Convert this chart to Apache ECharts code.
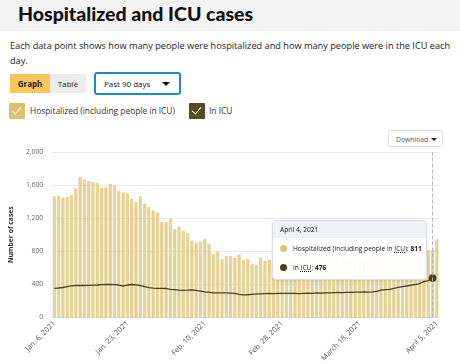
<!DOCTYPE html>
<html><head><meta charset="utf-8">
<script src="https://cdn.jsdelivr.net/npm/echarts@6/dist/echarts.min.js"></script>
<style>
body{margin:0;width:460px;height:364px;overflow:hidden;background:#fff;font-family:"Open Sans",sans-serif;position:relative;color:#222}
#hdr{position:absolute;left:0;top:0;width:460px;height:31px;background:#f3f3f3}
#title{position:absolute;left:18px;top:2px;font-family:Lato,sans-serif;font-weight:900;font-size:19.5px;color:#111;white-space:nowrap}
#desc{position:absolute;left:10px;top:39px;width:450px;font-size:9.2px;line-height:14.5px;color:#222}
.btn{position:absolute;top:74px;height:19px;line-height:19px;font-size:8px;text-align:center;color:#222}
#graph{left:10px;width:40px;background:#f8c75b;font-weight:700}
#table{left:50px;width:36px;background:#ececec}
#range{position:absolute;left:94px;top:72px;width:75px;height:19px;border:2px solid #1b8cc9;border-radius:3px;font-size:8px;line-height:19px;padding-left:8px;box-sizing:content-box;color:#222}
#range .arr{position:absolute;right:9px;top:8px;width:0;height:0;border-left:4px solid transparent;border-right:4px solid transparent;border-top:4px solid #111}
.cb{position:absolute;top:103px;width:16px;height:16px;border-radius:1px}
.cb::after{content:"";position:absolute;left:5px;top:1.5px;width:4px;height:8px;border-right:1.6px solid #fff;border-bottom:1.6px solid #fff;transform:rotate(40deg)}
#cb1{left:9px;background:#dcc06c}
#cb2{left:189px;background:#5a4a22}
.lg{position:absolute;top:105px;font-size:8.4px;color:#333;white-space:nowrap}
#dl{position:absolute;left:388px;top:130px;width:55px;height:17px;border:1px solid #e2e2e2;border-radius:2px;font-size:6.8px;line-height:17px;color:#555;padding-left:7px;box-sizing:border-box;z-index:10;background:#fff}
#dl .arr{position:absolute;right:5px;top:7px;width:0;height:0;border-left:3px solid transparent;border-right:3px solid transparent;border-top:3.5px solid #222}
#chart{position:absolute;left:0;top:125px;width:460px;height:239px}
abbr{text-decoration:underline dotted;text-underline-offset:1px}
</style></head>
<body>
<div id="hdr"><div id="title">Hospitalized and ICU cases</div></div>
<div id="desc">Each data point shows how many people were hospitalized and how many people were in the ICU each day.</div>
<div class="btn" id="graph">Graph</div><div class="btn" id="table">Table</div>
<div id="range">Past 90 days<span class="arr"></span></div>
<div class="cb" id="cb1"></div><div class="lg" style="left:30px">Hospitalized (including people in ICU)</div>
<div class="cb" id="cb2"></div><div class="lg" style="left:209px">In ICU</div>
<div id="chart"></div>
<div id="dl">Download<span class="arr"></span></div>
<script>
const dates = [
"Jan. 6, 2021","Jan. 7, 2021","Jan. 8, 2021","Jan. 9, 2021","Jan. 10, 2021","Jan. 11, 2021","Jan. 12, 2021","Jan. 13, 2021","Jan. 14, 2021","Jan. 15, 2021",
"Jan. 16, 2021","Jan. 17, 2021","Jan. 18, 2021","Jan. 19, 2021","Jan. 20, 2021","Jan. 21, 2021","Jan. 22, 2021","Jan. 23, 2021","Jan. 24, 2021","Jan. 25, 2021",
"Jan. 26, 2021","Jan. 27, 2021","Jan. 28, 2021","Jan. 29, 2021","Jan. 30, 2021","Jan. 31, 2021",
"Feb. 1, 2021","Feb. 2, 2021","Feb. 3, 2021","Feb. 4, 2021","Feb. 5, 2021","Feb. 6, 2021","Feb. 7, 2021","Feb. 8, 2021","Feb. 9, 2021","Feb. 10, 2021",
"Feb. 11, 2021","Feb. 12, 2021","Feb. 13, 2021","Feb. 14, 2021","Feb. 15, 2021","Feb. 16, 2021","Feb. 17, 2021","Feb. 18, 2021","Feb. 19, 2021","Feb. 20, 2021",
"Feb. 21, 2021","Feb. 22, 2021","Feb. 23, 2021","Feb. 24, 2021","Feb. 25, 2021","Feb. 26, 2021","Feb. 27, 2021","Feb. 28, 2021",
"March 1, 2021","March 2, 2021","March 3, 2021","March 4, 2021","March 5, 2021","March 6, 2021","March 7, 2021","March 8, 2021","March 9, 2021","March 10, 2021",
"March 11, 2021","March 12, 2021","March 13, 2021","March 14, 2021","March 15, 2021","March 16, 2021","March 17, 2021","March 18, 2021","March 19, 2021","March 20, 2021",
"March 21, 2021","March 22, 2021","March 23, 2021","March 24, 2021","March 25, 2021","March 26, 2021","March 27, 2021","March 28, 2021","March 29, 2021","March 30, 2021",
"March 31, 2021","April 1, 2021","April 2, 2021","April 3, 2021","April 4, 2021","April 5, 2021"
];
const shownLabels = ["Jan. 6, 2021","Jan. 23, 2021","Feb. 10, 2021","Feb. 28, 2021","March 18, 2021","April 5, 2021"];
const hospitalized = [
1464,1472,1448,1456,1476,1556,1696,1668,1648,1636,
1624,1568,1572,1616,1592,1528,1508,1496,1432,1396,
1464,1376,1332,1292,1268,1156,1148,1188,1064,1096,
1044,1016,928,904,916,948,888,768,792,704,
744,744,720,760,692,704,644,636,724,684,
696,700,712,690,705,720,698,684,710,725,
706,692,715,730,712,700,722,736,718,705,
728,742,724,712,735,748,730,720,744,756,
740,730,752,766,758,772,790,810,811,944
];
const icu = [
352,356,362,372,382,386,388,386,388,390,
392,396,398,398,396,392,380,392,398,394,
386,372,360,354,352,352,350,340,336,330,
328,330,334,326,318,310,304,298,296,298,
296,294,290,280,272,274,280,284,286,288,
290,288,290,292,290,292,290,288,292,294,
292,296,294,296,298,300,302,300,302,304,
306,306,308,306,308,316,330,336,340,352,
364,372,380,390,398,410,432,446,476,null
];
const tipIndex = 88;

const chart = echarts.init(document.getElementById('chart'), null, {renderer:'canvas'});
chart.setOption({
  animation:false,
  grid:{left:46,right:21,top:27,bottom:46},
  tooltip:{
    trigger:'axis', alwaysShowContent:true, transitionDuration:0, padding:0,
    borderColor:'#dadde2', borderWidth:1, backgroundColor:'rgba(255,255,255,0.94)',
    extraCssText:'border-radius:4px;box-shadow:0 1px 3px rgba(0,0,0,0.12);overflow:hidden;',
    position:function(){return [272,95];},
    axisPointer:{type:'line',lineStyle:{color:'#b5b5b5',type:'dashed',width:1}},
    formatter:function(params){
      const i = params[0].dataIndex;
      const dot = c => '<span style="display:inline-block;width:7px;height:7px;border-radius:50%;background:'+c+';margin-right:6px;vertical-align:-1px"></span>';
      return '<div style="width:153px;font-family:\'Open Sans\',sans-serif;font-size:6.6px;line-height:1;color:#222">'+
        '<div style="background:#eef1f5;padding:0 7px;height:17px;line-height:17px">'+dates[i]+'</div>'+
        '<div style="padding:0 7px;height:21px;line-height:22px;white-space:nowrap">'+dot('#dcc47c')+'Hospitalized (including people in <abbr>ICU</abbr>): <b>'+hospitalized[i]+'</b></div>'+
        '<div style="padding:0 7px;height:20px;line-height:18px;white-space:nowrap">'+dot('#4a3c1c')+'In <abbr>ICU</abbr>: <b>'+icu[i]+'</b></div>'+
        '</div>';
    }
  },
  xAxis:{
    type:'category', data:dates,
    axisTick:{show:false},
    axisLine:{lineStyle:{color:'#e0e0e0'}},
    axisLabel:{interval:function(idx,val){return shownLabels.indexOf(val)>=0;},rotate:45,fontSize:7.3,color:'#555',margin:5,fontFamily:'Open Sans'}
  },
  yAxis:{
    type:'value', min:0, max:2000, interval:400,
    name:'Number of cases', nameLocation:'middle', nameGap:31,
    nameTextStyle:{fontSize:6.8,fontWeight:'bold',color:'#333',fontFamily:'Open Sans'},
    axisLabel:{fontSize:6.8,color:'#666',margin:9,fontFamily:'Open Sans',formatter:v=>v.toLocaleString('en-US')},
    splitLine:{lineStyle:{color:'#e9e9e9'}}
  },
  series:[
    {type:'bar', name:'Hospitalized', data:hospitalized, barCategoryGap:'32%',
     itemStyle:{color:'#ead598',borderColor:'#d8be70',borderWidth:0.5},
     emphasis:{disabled:true}},
    {type:'line', name:'In ICU', data:icu, showSymbol:true, symbol:'circle',
     symbolSize:function(v,p){return p.dataIndex===tipIndex?7:0;},
     lineStyle:{color:'#4d3f1f',width:1.3}, itemStyle:{color:'#4a3c1c'},
     emphasis:{disabled:true}, z:5}
  ]
});
chart.dispatchAction({type:'showTip', seriesIndex:0, dataIndex:tipIndex});
</script>
</body></html>
